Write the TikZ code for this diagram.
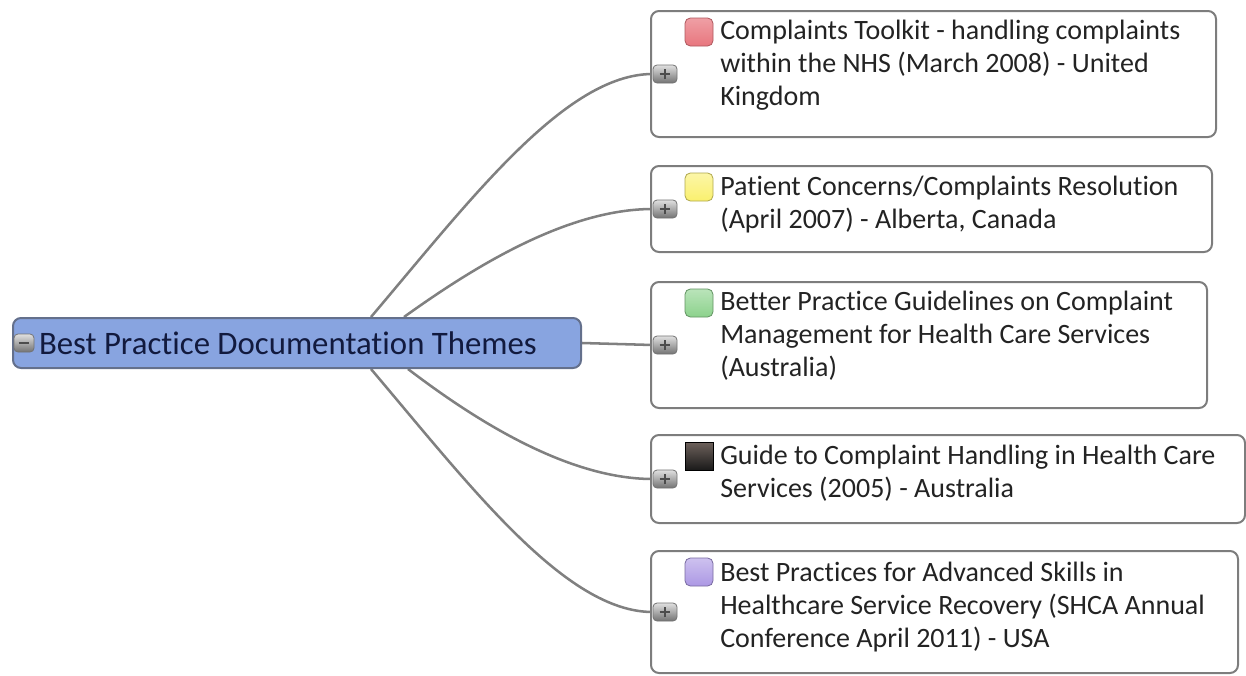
\documentclass[tikz,border=0pt]{standalone}
\usepackage{fontspec}
\setmainfont{Carlito}[Ligatures=NoCommon]
\usetikzlibrary{backgrounds,positioning}

\definecolor{themeblue}{RGB}{136,164,224}
\definecolor{themeedge}{RGB}{100,112,140}
\definecolor{themetext}{RGB}{18,26,62}
\definecolor{boxgray}{RGB}{125,125,125}
\definecolor{linegray}{RGB}{128,128,128}
\definecolor{textgray}{RGB}{35,35,35}
\definecolor{markred}{RGB}{232,118,126}
\definecolor{markyellow}{RGB}{250,240,110}
\definecolor{markgreen}{RGB}{140,210,140}
\definecolor{markpurple}{RGB}{172,152,228}
\definecolor{markdark}{RGB}{110,98,92}

\begin{document}
\begin{tikzpicture}[x=0.75pt,y=-0.75pt]
    \tikzstyle{central} = [rectangle, draw=themeedge, line width=1.5pt, fill=themeblue,
        rounded corners=6pt, anchor=west, text width=387pt, align=flush left, minimum height=37.5pt,
        inner xsep=19.5pt, text=themetext, font=\fontsize{24.6}{28}\selectfont]
    \tikzstyle{topic} = [rectangle, draw=boxgray, line width=1.5pt, fill=white,
        rounded corners=6pt, anchor=north west, inner sep=0pt]
    % base anchor sits on the last line of the text
    \tikzstyle{topictext} = [anchor=base west, align=left, inner sep=0pt,
        text=textgray, font=\fontsize{21}{25.1}\selectfont]
    \tikzstyle{marker} = [rectangle, draw, line width=0.6pt, rounded corners=4pt,
        minimum size=21pt, inner sep=0pt]
    \tikzstyle{expander} = [rectangle, draw=black!55, line width=0.6pt, rounded corners=3pt,
        top color=black!12, bottom color=black!55, minimum width=18pt,
        minimum height=13.5pt, inner sep=0pt]
    \tikzstyle{plus} = [path picture={\draw[black!70, line width=0.9pt]
        ([xshift=-4pt]path picture bounding box.center) -- ([xshift=4pt]path picture bounding box.center)
        ([yshift=-4pt]path picture bounding box.center) -- ([yshift=4pt]path picture bounding box.center);}]
    \tikzstyle{minus} = [path picture={\draw[black!70, line width=0.9pt]
        ([xshift=-4pt]path picture bounding box.center) -- ([xshift=4pt]path picture bounding box.center);}]
    \tikzstyle{line} = [draw=linegray, line width=1.9pt]

    \useasboundingbox (0,0) rectangle (1246,675);

    % Central topic
    \node[central] (theme) at (12,343) {Best Practice Documentation Themes};
    \node[expander, minus, minimum width=15pt] (collapse) at (24,343) {};

    % Complaints Toolkit
    \node[topic, minimum width=423.75pt, minimum height=94.5pt] (t1) at (650,10) {};
    \node[marker, draw=markred!75!black, top color=markred!70, bottom color=markred]
        (m1) at ([xshift=36.75pt,yshift=-16.5pt]t1.north west) {};
    \node[topictext] (x1) at ([xshift=52.5pt,yshift=-71.95pt]t1.north west)
        {Complaints Toolkit - handling complaints\\within the NHS (March 2008) - United\\Kingdom};
    \node[expander, plus] (e1) at ([xshift=11.25pt]t1.west) {};

    % Patient Concerns
    \node[topic, minimum width=420.75pt, minimum height=64.5pt] (t2) at (650,165) {};
    \node[marker, draw=markyellow!70!black, top color=markyellow!60, bottom color=markyellow]
        (m2) at ([xshift=36.75pt,yshift=-16.5pt]t2.north west) {};
    \node[topictext] (x2) at ([xshift=52.5pt,yshift=-47.6pt]t2.north west)
        {Patient Concerns/Complaints Resolution\\(April 2007) - Alberta, Canada};
    \node[expander, plus] (e2) at ([xshift=11.25pt]t2.west) {};

    % Better Practice Guidelines
    \node[topic, minimum width=417pt, minimum height=94.5pt] (t3) at (650,281) {};
    \node[marker, draw=markgreen!70!black, top color=markgreen!60, bottom color=markgreen]
        (m3) at ([xshift=36.75pt,yshift=-16.5pt]t3.north west) {};
    \node[topictext] (x3) at ([xshift=52.5pt,yshift=-71.95pt]t3.north west)
        {Better Practice Guidelines on Complaint\\Management for Health Care Services\\(Australia)};
    \node[expander, plus] (e3) at ([xshift=11.25pt]t3.west) {};

    % Guide to Complaint Handling
    \node[topic, minimum width=445.5pt, minimum height=66pt] (t4) at (650,434) {};
    \node[marker, rounded corners=0pt, draw=black, top color=markdark, bottom color=black!90]
        (m4) at ([xshift=36.75pt,yshift=-16.5pt]t4.north west) {};
    \node[topictext] (x4) at ([xshift=52.5pt,yshift=-47.6pt]t4.north west)
        {Guide to Complaint Handling in Health Care\\Services (2005) - Australia};
    \node[expander, plus] (e4) at ([xshift=11.25pt]t4.west) {};

    % Best Practices for Advanced Skills
    \node[topic, minimum width=440.25pt, minimum height=91.5pt] (t5) at (650,550) {};
    \node[marker, draw=markpurple!70!black, top color=markpurple!60, bottom color=markpurple]
        (m5) at ([xshift=36.75pt,yshift=-16.5pt]t5.north west) {};
    \node[topictext] (x5) at ([xshift=52.5pt,yshift=-73.45pt]t5.north west)
        {Best Practices for Advanced Skills in\\Healthcare Service Recovery (SHCA Annual\\Conference April 2011) - USA};
    \node[expander, plus] (e5) at ([xshift=11.25pt]t5.west) {};

    % connectors behind the topics
    \begin{scope}[on background layer]
      \draw[line] ([xshift=55.5pt]theme.north) .. controls +(100,-118) and +(-87,0) .. (e1.west);
      \draw[line] ([xshift=80.25pt]theme.north) .. controls +(67,-48) and +(-87,0) .. (e2.west);
      \draw[line] (theme.east) -- (e3.west);
      \draw[line] ([xshift=83.25pt]theme.south) .. controls +(63,48) and +(-87,0) .. (e4.west);
      \draw[line] ([xshift=55.5pt]theme.south) .. controls +(100,118) and +(-87,0) .. (e5.west);
    \end{scope}
\end{tikzpicture}
\end{document}
